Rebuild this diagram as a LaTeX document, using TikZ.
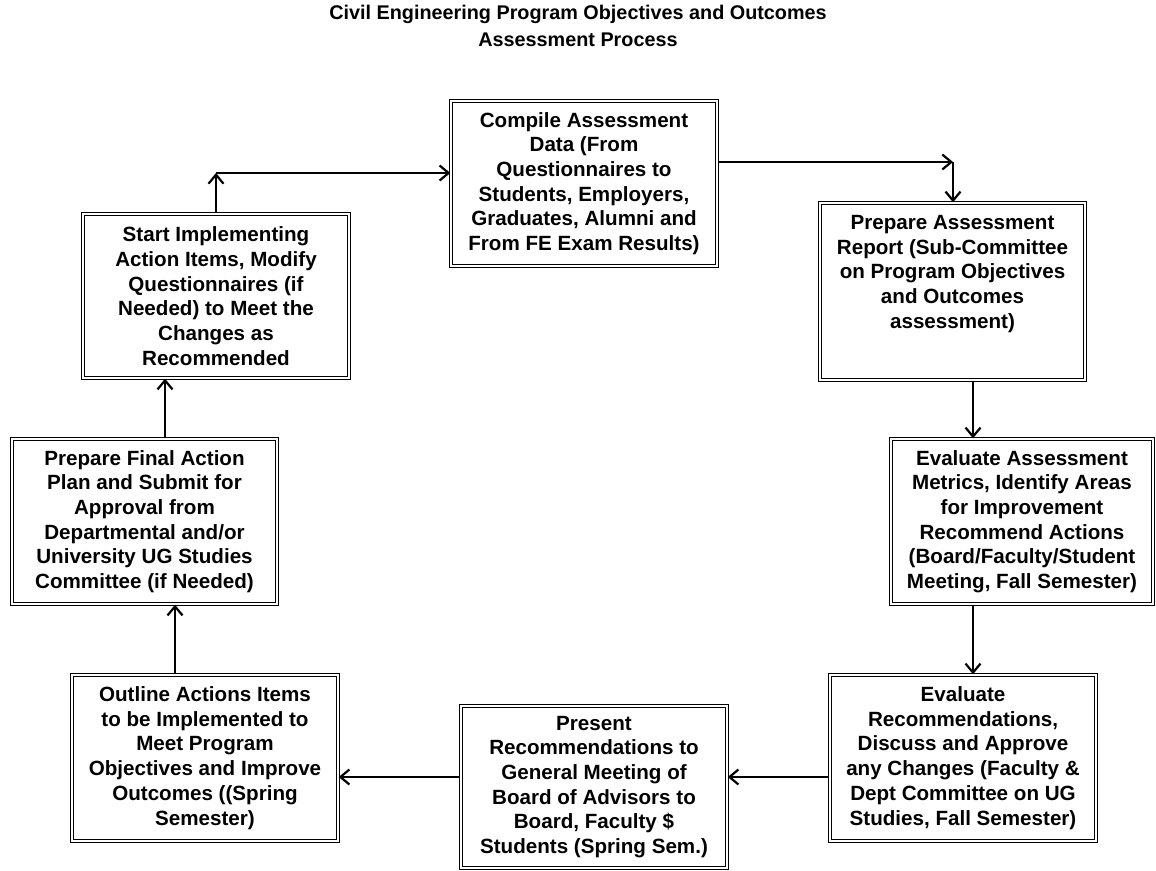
\documentclass[tikz,border=0pt]{standalone}
\usepackage{fontspec}
\setmainfont{Liberation Sans}
\usetikzlibrary{arrows.meta}
\begin{document}
\begin{tikzpicture}[x=0.5pt,y=-0.5pt,
  box/.style={draw, line width=0.7pt, double=white, double distance=0.8pt,
    inner sep=0pt, align=center, font=\bfseries\fontsize{10.3}{12.35}\selectfont},
  txt/.style={inner sep=0pt, align=center, font=\bfseries\fontsize{10.3}{12.35}\selectfont},
  ttl/.style={inner sep=0pt, anchor=base, font=\bfseries\fontsize{9.9}{12}\selectfont},
  arr/.style={line width=1.1pt, -{Straight Barb[length=4.5pt,width=7.5pt,line width=1.1pt]}}]
\fill[white] (0,0) rectangle (1156,871);
\useasboundingbox (0,0) rectangle (1156,871);

\node[ttl] (title1) at (578,19.5) {Civil Engineering Program Objectives and Outcomes};
\node[ttl] (title2) at (578,46.5) {Assessment Process};

\node[box, minimum width=133pt, minimum height=82.5pt] (b1) at (584,183.5)
  {Compile Assessment\\Data (From\\Questionnaires to\\Students, Employers,\\Graduates, Alumni and\\From FE Exam Results)};
\node[box, minimum width=133pt, minimum height=82pt] (b2) at (216,296)
  {Start Implementing\\Action Items, Modify\\Questionnaires (if\\Needed) to Meet the\\Changes as\\Recommended};
\node[box, minimum width=132.5pt, minimum height=88.5pt] (b3) at (952.5,291.5) {};
\node[txt] (t3) at (952.5,274)
  {Prepare Assessment\\Report (Sub-Committee\\on Program Objectives\\and Outcomes\\assessment)};
\node[box, minimum width=131pt, minimum height=82.5pt] (b4) at (1022,521.5)
  {Evaluate Assessment\\Metrics, Identify Areas\\for Improvement\\Recommend Actions\\(Board/Faculty/Student\\Meeting, Fall Semester)};
\node[box, minimum width=133pt, minimum height=83pt] (b5) at (963,758)
  {Evaluate\\Recommendations,\\Discuss and Approve\\any Changes (Faculty \&\\Dept Committee on UG\\Studies, Fall Semester)};
\node[box, minimum width=133pt, minimum height=81pt] (b6) at (594,787)
  {Present\\Recommendations to\\General Meeting of\\Board of Advisors to\\Board, Faculty \$\\Students (Spring Sem.)};
\node[box, minimum width=133pt, minimum height=83pt] (b7) at (205,758)
  {Outline Actions Items\\to be Implemented to\\Meet Program\\Objectives and Improve\\Outcomes ((Spring\\Semester)};
\node[box, minimum width=132.5pt, minimum height=82.5pt] (b8) at (144.5,521.5)
  {Prepare Final Action\\Plan and Submit for\\Approval from\\Departmental and/or\\University UG Studies\\Committee (if Needed)};

\coordinate (c13) at (953,162);
\coordinate (c21) at (216,173);
\coordinate (xr) at (973,0);
\coordinate (yb) at (0,777);
\coordinate (x78) at (175,0);
\coordinate (x82) at (165,0);

\draw[arr] (b1.east |- c13) -- (c13);
\draw[arr] (c13) -- (b3.north -| c13);
\draw[arr] (b2.north) -- (c21);
\draw[arr] (c21) -- (b1.west |- c21);
\draw[arr] (b3.south -| xr) -- (b4.north -| xr);
\draw[arr] (b4.south -| xr) -- (b5.north -| xr);
\draw[arr] (b5.west |- yb) -- (b6.east |- yb);
\draw[arr] (b6.west |- yb) -- (b7.east |- yb);
\draw[arr] (b7.north -| x78) -- (b8.south -| x78);
\draw[arr] (b8.north -| x82) -- (b2.south -| x82);
\end{tikzpicture}
\end{document}
